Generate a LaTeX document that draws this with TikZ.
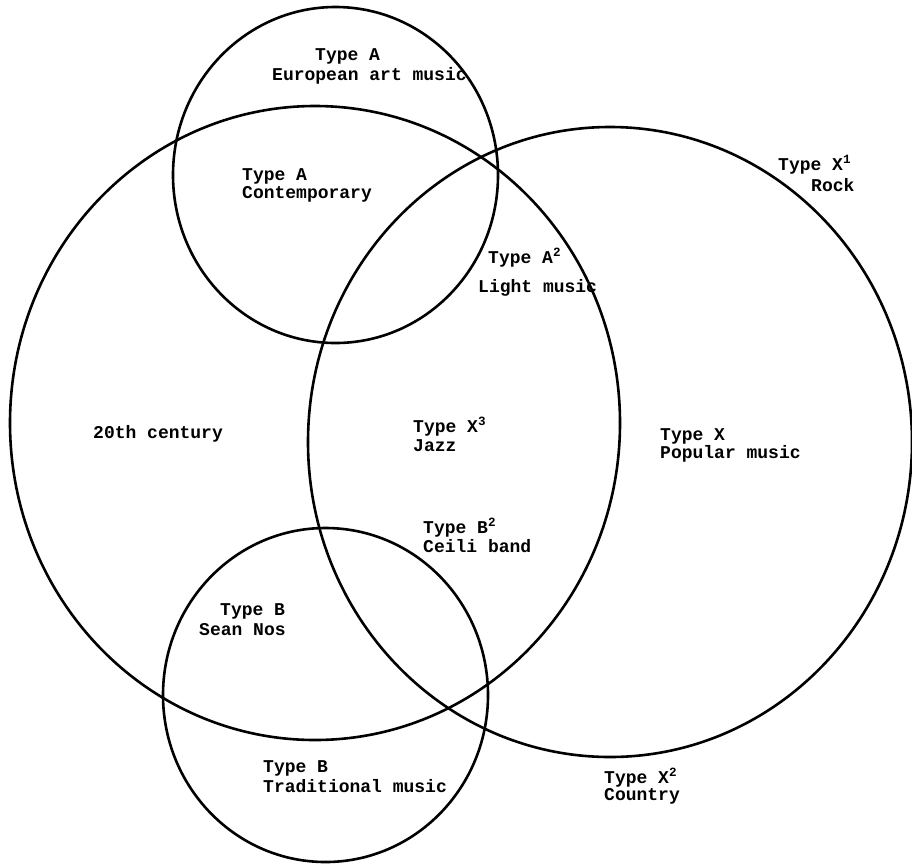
\documentclass[tikz,border=0pt]{standalone}
\usepackage{fontspec}
\setmainfont{Liberation Mono}
\begin{document}
\begin{tikzpicture}[x=1pt,y=-1pt,
  ring/.style={line width=2.6pt},
  lbl/.style={anchor=base west,inner sep=0pt,font=\fontsize{18}{19}\selectfont\bfseries}]
\useasboundingbox (0,0) rectangle (912,865);
\fill[white] (0,0) rectangle (912,865);
% circles
\draw[ring] (335.5,175) ellipse [x radius=162.5pt, y radius=168pt];
\draw[ring] (315,423) ellipse [x radius=305pt, y radius=317pt];
\draw[ring] (610,442) ellipse [x radius=302pt, y radius=315pt];
\draw[ring] (325.5,695) ellipse [x radius=162.5pt, y radius=167pt];
% labels
\node[lbl] (ta1) at (315,60) {Type A};
\node[lbl] (eam) at (272,80) {European art music};
\node[lbl] (ta2) at (242,180) {Type A};
\node[lbl] (con) at (242,198) {Contemporary};
\node[lbl] (ta3) at (488,263) {Type A\textsuperscript{2}};
\node[lbl] (lm) at (478,292) {Light music};
\node[lbl] (tx3) at (413,432) {Type X\textsuperscript{3}};
\node[lbl] (jz) at (413,451) {Jazz};
\node[lbl] (tb2) at (423,533) {Type B\textsuperscript{2}};
\node[lbl] (cb) at (423,552) {Ceili band};
\node[lbl] (tb1) at (220,615) {Type B};
\node[lbl] (sn) at (199,635) {Sean Nos};
\node[lbl] (tb3) at (263,772) {Type B};
\node[lbl] (tm) at (263,792) {Traditional music};
\node[lbl] (tc) at (93,438) {20th century};
\node[lbl] (tx) at (660,440) {Type X};
\node[lbl] (pm) at (660,458) {Popular music};
\node[lbl] (tx1) at (778,170) {Type X\textsuperscript{1}};
\node[lbl] (rk) at (811,191) {Rock};
\node[lbl] (tx2) at (604,783) {Type X\textsuperscript{2}};
\node[lbl] (cy) at (604,800) {Country};
\end{tikzpicture}
\end{document}
